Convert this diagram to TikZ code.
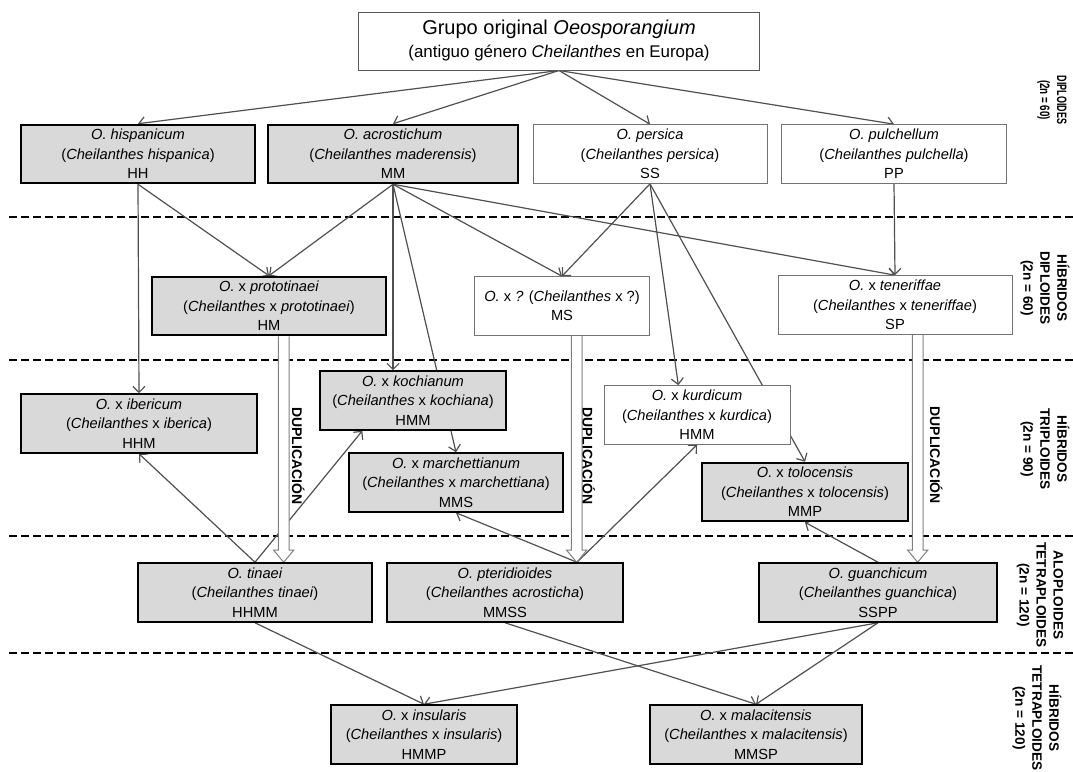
\documentclass[tikz,border=0pt]{standalone}
\usepackage{fontspec}
\setmainfont{Liberation Sans}
\usetikzlibrary{arrows.meta}
\pgfdeclarelayer{bg}
\pgfsetlayers{bg,main}
\definecolor{boxgray}{RGB}{217,217,217}
\definecolor{linegray}{RGB}{80,80,80}

\begin{document}
\begin{tikzpicture}[x=0.75pt, y=-0.75pt,
  every node/.style={font=\fontsize{11}{14.6}\selectfont},
  sp/.style={align=center, minimum height=44pt, inner sep=0pt},
  graybox/.style={sp, draw=black, line width=1.4pt, fill=boxgray},
  whitebox/.style={sp, draw=black!55, line width=0.75pt, fill=white},
  arr/.style={draw=linegray, line width=0.9pt, -{Straight Barb[length=4.5pt,width=9pt]}},
  divider/.style={draw=black, line width=1.4pt, dash pattern=on 6pt off 3pt},
  ploidy/.style={rotate=-90, align=center, inner sep=0pt, font=\bfseries\fontsize{10.2}{12.8}\selectfont},
  dup/.style={draw=gray, line width=0.75pt, fill=white},
  duptext/.style={rotate=-90, inner sep=0pt, font=\bfseries\fontsize{10.5}{12}\selectfont}]
\useasboundingbox (0,0) rectangle (1073,771);

% original group
\node[draw=black!65, line width=0.75pt, fill=white, align=center, minimum width=301pt, minimum height=43.5pt, inner sep=0pt, font=\fontsize{12.7}{17.25}\selectfont] (grupo) at (559,41) {{\fontsize{15}{17.25}\selectfont Grupo original \textit{Oeosporangium}}\\(antiguo género \textit{Cheilanthes} en Europa)};

% diploides
\node[graybox, minimum width=176pt] (hisp) at (138,154) {\textit{O. hispanicum}\\(\textit{Cheilanthes hispanica})\\HH};
\node[graybox, minimum width=187.5pt] (acro) at (393,154) {\textit{O. acrostichum}\\(\textit{Cheilanthes maderensis})\\MM};
\node[whitebox, minimum width=175.5pt] (pers) at (650,154) {\textit{O. persica}\\(\textit{Cheilanthes persica})\\SS};
\node[whitebox, minimum width=169pt] (pulch) at (894,154) {\textit{O. pulchellum}\\(\textit{Cheilanthes pulchella})\\PP};

% hibridos diploides
\node[graybox, minimum width=176pt] (proto) at (269,306) {\textit{O.} x \textit{prototinaei}\\(\textit{Cheilanthes} x \textit{prototinaei})\\HM};
\node[whitebox, minimum width=131pt] (ms) at (562,306) {\textit{O.} x \textit{?} (\textit{Cheilanthes} x ?)\\MS};
\node[whitebox, minimum width=175.5pt] (tene) at (895,305) {\textit{O.} x \textit{teneriffae}\\(\textit{Cheilanthes} x \textit{teneriffae})\\SP};

% hibridos triploides
\node[graybox, minimum width=177pt] (iber) at (139,423.5) {\textit{O.} x \textit{ibericum}\\(\textit{Cheilanthes} x \textit{iberica})\\HHM};
\node[graybox, minimum width=140pt] (koch) at (413,400.5) {\textit{O.} x \textit{kochianum}\\(\textit{Cheilanthes} x \textit{kochiana})\\HMM};
\node[graybox, minimum width=160pt] (march) at (456,482.5) {\textit{O.} x \textit{marchettianum}\\(\textit{Cheilanthes} x \textit{marchettiana})\\MMS};
\node[whitebox, minimum width=139.5pt] (kurd) at (697,415) {\textit{O.} x \textit{kurdicum}\\(\textit{Cheilanthes} x \textit{kurdica})\\HMM};
\node[graybox, minimum width=154.5pt] (tolo) at (805,492) {\textit{O.} x \textit{tolocensis}\\(\textit{Cheilanthes} x \textit{tolocensis})\\MMP};

% aloploides tetraploides
\node[graybox, minimum width=176pt] (tina) at (255,592.5) {\textit{O. tinaei}\\(\textit{Cheilanthes tinaei})\\HHMM};
\node[graybox, minimum width=177pt] (pteri) at (505,592.5) {\textit{O. pteridioides}\\(\textit{Cheilanthes acrosticha})\\MMSS};
\node[graybox, minimum width=178pt] (guan) at (878,592.5) {\textit{O. guanchicum}\\(\textit{Cheilanthes guanchica})\\SSPP};

% hibridos tetraploides
\node[graybox, minimum width=140pt] (insu) at (424,734.5) {\textit{O.} x \textit{insularis}\\(\textit{Cheilanthes} x \textit{insularis})\\HMMP};
\node[graybox, minimum width=159pt] (mala) at (756,734.5) {\textit{O.} x \textit{malacitensis}\\(\textit{Cheilanthes} x \textit{malacitensis})\\MMSP};

% levels on the right
\node[ploidy] (lvdip) at (1052,100) {\scalebox{0.66}[1]{DIPLOIDES}\\\scalebox{0.72}[1]{(2n = 60)}};
\node[ploidy] (lvhdip) at (1045,288) {HÍBRIDOS\\DIPLOIDES\\(2n = 60)};
\node[ploidy] (lvtri) at (1045,449) {HÍBRIDOS\\TRIPLOIDES\\(2n = 90)};
\node[ploidy] (lvalo) at (1040,595) {ALOPLOIDES\\TETRAPLOIDES\\(2n = 120)};
\node[ploidy] (lvhtet) at (1037,718) {HÍBRIDOS\\TETRAPLOIDES\\(2n = 120)};

\begin{pgfonlayer}{bg}
% level dividers
\draw[divider] (9,217) -- (1073,217);
\draw[divider] (9,360) -- (1073,360);
\draw[divider] (9,536) -- (1073,536);
\draw[divider] (9,653) -- (1073,653);
% from the original group
\draw[arr] (grupo.south) -- (hisp.north);
\draw[arr] (grupo.south) -- (acro.north);
\draw[arr] (grupo.south) -- (pers.north);
\draw[arr] (grupo.south) -- (pulch.north);
% diploid parents
\draw[arr] (hisp.south) -- (proto.north);
\draw[arr] (hisp.south) -- (iber.north);
\draw[arr] (acro.south) -- (proto.north);
\draw[arr] (acro.south) -- ([xshift=-15pt]koch.north);
\draw[arr] (acro.south) -- (march.north);
\draw[arr] (acro.south) -- (ms.north);
\draw[arr] (acro.south) -- (tene.north);
\draw[arr] (pers.south) -- (ms.north);
\draw[arr] (pers.south) -- ([xshift=-14pt]kurd.north);
\draw[arr] (pers.south) -- (tolo.north);
\draw[arr] (pulch.south) -- (tene.north);
% tetraploids back to triploids
\draw[arr] (tina.north) -- (iber.south);
\draw[arr] (tina.north) -- ([xshift=-38pt]koch.south);
\draw[arr] ([xshift=54pt]pteri.north) -- (march.south);
\draw[arr] ([xshift=54pt]pteri.north) -- (kurd.south);
\draw[arr] (guan.north) -- (tolo.south);
% tetraploid hybrids
\draw[arr] (tina.south) -- (insu.north);
\draw[arr] (pteri.south) -- (mala.north);
\draw[arr] (guan.south) -- (insu.north);
\draw[arr] (guan.south) -- (mala.north);
% duplications
\foreach \src/\dst/\dx/\lx/\n in {proto/tina/11pt/11pt/1, ms/pteri/11pt/9pt/2, tene/guan/17pt/14pt/3}{
  \coordinate (dtop\n) at ([xshift=\dx]\src.south);
  \coordinate (dbot\n) at (dtop\n |- \dst.north);
  \draw[dup] ([xshift=-4pt]dtop\n) -- ([shift={(-4pt,9pt)}]dbot\n) -- ([shift={(-7.5pt,9pt)}]dbot\n) -- (dbot\n) -- ([shift={(7.5pt,9pt)}]dbot\n) -- ([shift={(4pt,9pt)}]dbot\n) -- ([xshift=4pt]dtop\n);
  \path (dtop\n) -- (dbot\n) node[pos=0.53, xshift=\lx, duptext] (dup\n) {DUPLICACIÓN};
}
\end{pgfonlayer}
\end{tikzpicture}
\end{document}
